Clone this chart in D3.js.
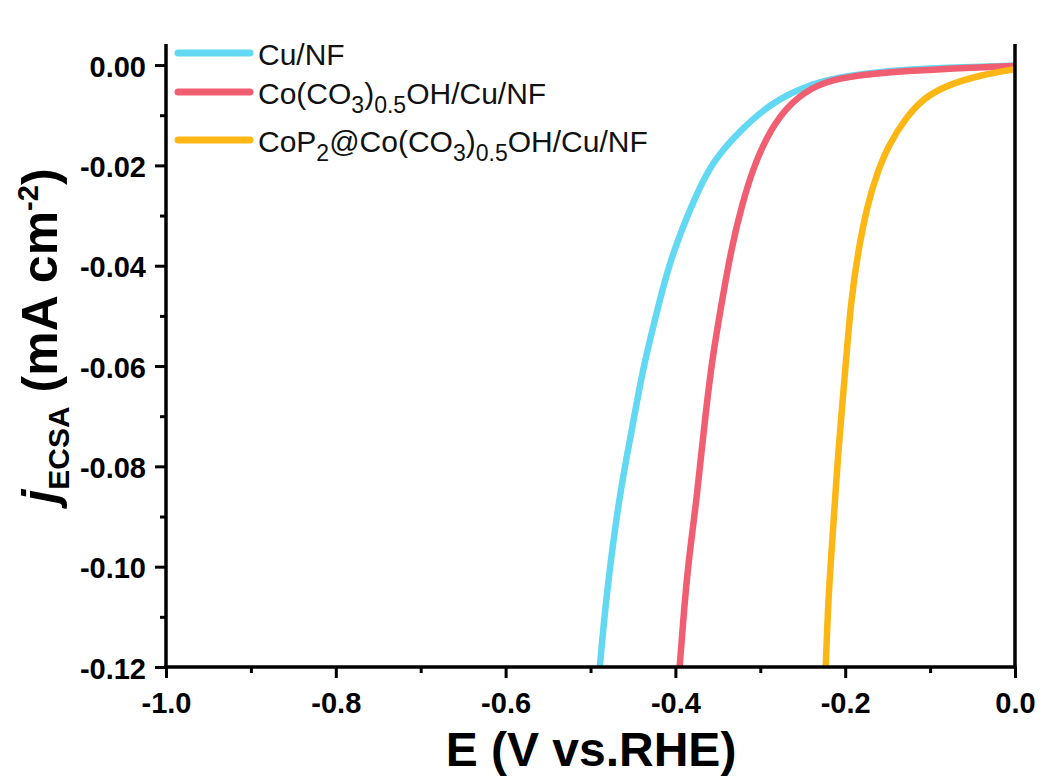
<!DOCTYPE html>
<html>
<head>
<meta charset="utf-8">
<script src="https://cdn.jsdelivr.net/npm/d3@7"></script>
<style>
  body { margin: 0; background: #fff; }
  .tick text { font-family: "Liberation Sans", Arial, sans-serif; font-weight: bold; font-size: 29px; fill: #000; }
  .axis path, .axis line { stroke: #000; stroke-width: 3px; }
  .legend text { font-family: "Liberation Sans", Arial, sans-serif; font-size: 30px; fill: #111; }
  .title { font-family: "Liberation Sans", Arial, sans-serif; font-weight: bold; fill: #000; }
</style>
</head>
<body>
<script>
var seriesNames = ["Cu/NF", "Co(CO3)0.5OH/Cu/NF", "CoP2@Co(CO3)0.5OH/Cu/NF"];
var seriesColors = ["#62d8f2", "#f15e72", "#fcb714"];

// E (V vs RHE) and j (mA cm-2)
var cuE = [-0.489, -0.482, -0.467, -0.452, -0.438, -0.424, -0.407, -0.375, -0.355, -0.320, -0.287, -0.250, -0.212, -0.150, -0.080, 0.0];
var cuJ = [-0.12, -0.1067, -0.0867, -0.0734, -0.0602, -0.0508, -0.0389, -0.0255, -0.0189, -0.0124, -0.0076, -0.0044, -0.0025, -0.0011, -0.0005, -0.0001];

var coE = [-0.395, -0.389, -0.383, -0.375, -0.367, -0.358, -0.349, -0.334, -0.321, -0.309, -0.293, -0.270, -0.240, -0.208, -0.160, -0.090, 0.0];
var coJ = [-0.12, -0.1067, -0.0967, -0.0867, -0.0734, -0.0602, -0.0508, -0.0363, -0.0275, -0.0209, -0.0144, -0.0084, -0.0044, -0.0026, -0.0015, -0.0008, -0.0002];

var cpE = [-0.223, -0.220, -0.216, -0.212, -0.208, -0.203, -0.198, -0.193, -0.185, -0.174, -0.162, -0.149, -0.129, -0.108, -0.080, -0.041, 0.0];
var cpJ = [-0.12, -0.1067, -0.0967, -0.0867, -0.0768, -0.0668, -0.0568, -0.0469, -0.0373, -0.0279, -0.0213, -0.0160, -0.0106, -0.0066, -0.0040, -0.0020, -0.0008];

var xTicks = [-1.0, -0.8, -0.6, -0.4, -0.2, 0.0];
var xMinor = [-0.9, -0.7, -0.5, -0.3, -0.1];
var yTicks = [0.00, -0.02, -0.04, -0.06, -0.08, -0.10, -0.12];
var yMinor = [-0.01, -0.03, -0.05, -0.07, -0.09, -0.11];

var series = [
  {name: seriesNames[0], color: seriesColors[0], E: cuE, J: cuJ},
  {name: seriesNames[1], color: seriesColors[1], E: coE, J: coJ},
  {name: seriesNames[2], color: seriesColors[2], E: cpE, J: cpJ}
];

var W = 1043, H = 778;
var m = {left: 166, right: 1015, top: 44, bottom: 667};

var svg = d3.select("body").append("svg")
    .attr("width", W).attr("height", H);

var x = d3.scaleLinear().domain([-1, 0]).range([m.left, m.right]);
var y = d3.scaleLinear().domain([-0.12, 0.0042]).range([m.bottom, m.top]);

// curves
var line = d3.line()
    .x(function(d) { return x(d[0]); })
    .y(function(d) { return y(d[1]); })
    .curve(d3.curveBasis);

svg.append("clipPath").attr("id", "plotclip")
  .append("rect").attr("x", m.left).attr("y", m.top)
  .attr("width", m.right - m.left).attr("height", m.bottom - m.top + 2);

svg.append("g").attr("clip-path", "url(#plotclip)")
  .selectAll("path.curve").data(series).enter()
  .append("path")
    .attr("class", "curve")
    .attr("fill", "none")
    .attr("stroke", function(s) { return s.color; })
    .attr("stroke-width", 6.5)
    .attr("d", function(s) { return line(s.E.map(function(e, i) { return [e, s.J[i]]; })); });

// axes (hyphen minus like the original)
var fmtX = function(d) { return d3.format(".1f")(d).replace("\u2212", "-"); };
var fmtY = function(d) { return d3.format(".2f")(d).replace("\u2212", "-"); };

var xAxisG = svg.append("g").attr("class", "axis")
    .attr("transform", "translate(0," + m.bottom + ")")
    .call(d3.axisBottom(x).tickValues(xTicks).tickSize(11).tickPadding(14).tickFormat(fmtX));
xAxisG.select(".domain").remove();

svg.append("g").attr("class", "axis")
    .attr("transform", "translate(0," + m.bottom + ")")
    .call(d3.axisBottom(x).tickValues(xMinor).tickSize(6).tickFormat(""))
    .select(".domain").remove();

var yAxisG = svg.append("g").attr("class", "axis")
    .attr("transform", "translate(" + m.left + ",0)")
    .call(d3.axisLeft(y).tickValues(yTicks).tickSize(11).tickPadding(9).tickFormat(fmtY));
yAxisG.select(".domain").remove();
yAxisG.selectAll(".tick text").attr("dy", "0.38em");

svg.append("g").attr("class", "axis")
    .attr("transform", "translate(" + m.left + ",0)")
    .call(d3.axisLeft(y).tickValues(yMinor).tickSize(6).tickFormat(""))
    .select(".domain").remove();

// spines: left, bottom, right (no top)
var spines = [[m.left, m.top, m.left, m.bottom + 1.5], [m.left - 1.5, m.bottom, m.right + 1.5, m.bottom], [m.right, m.top, m.right, m.bottom + 1.5]];
svg.selectAll("line.spine").data(spines).enter()
  .append("line").attr("class", "spine")
    .attr("x1", function(d) { return d[0]; }).attr("y1", function(d) { return d[1]; })
    .attr("x2", function(d) { return d[2]; }).attr("y2", function(d) { return d[3]; })
    .attr("stroke", "#000").attr("stroke-width", 3.5);

// legend
var legend = svg.append("g").attr("class", "legend");
var legY = [53, 92, 140];
var lg = legend.selectAll("g").data(series).enter().append("g")
    .attr("transform", function(s, i) { return "translate(0," + legY[i] + ")"; });
lg.append("line")
    .attr("x1", 178).attr("x2", 250).attr("y1", 0).attr("y2", 0)
    .attr("stroke", function(s) { return s.color; })
    .attr("stroke-width", 7).attr("stroke-linecap", "round");

function addFormula(t, name) {
  var parts;
  if (name === "Cu/NF") parts = [["Cu/NF", 0]];
  else if (name.indexOf("CoP2") === 0) parts = [["CoP", 0], ["2", 1], ["@Co(CO", 0], ["3", 1], [")", 0], ["0.5", 1], ["OH/Cu/NF", 0]];
  else parts = [["Co(CO", 0], ["3", 1], [")", 0], ["0.5", 1], ["OH/Cu/NF", 0]];
  var prev = 0;
  parts.forEach(function(p) {
    var ts = t.append("tspan").text(p[0]);
    var shift = p[1] ? 9 : 0;
    if (shift !== prev) ts.attr("dy", shift - prev);
    if (p[1]) ts.style("font-size", "23px");
    prev = shift;
  });
}
lg.append("text")
    .attr("x", 258).attr("y", 12)
    .each(function(s) { addFormula(d3.select(this), s.name); });

// axis titles
svg.append("text").attr("class", "title")
    .attr("x", 591).attr("y", 766)
    .attr("text-anchor", "middle")
    .style("font-size", "48px")
    .text("E (V vs.RHE)");

var yt = svg.append("text").attr("class", "title")
    .attr("transform", "translate(57,336) rotate(-90)")
    .attr("text-anchor", "middle")
    .style("font-size", "50px");
yt.append("tspan").style("font-style", "italic").text("j");
yt.append("tspan").attr("dy", 12).style("font-size", "30px").text("ECSA");
yt.append("tspan").attr("dy", -12).text(" (mA cm");
yt.append("tspan").attr("dy", -19).style("font-size", "29px").text("-2");
yt.append("tspan").attr("dy", 19).text(")");
</script>
</body>
</html>
